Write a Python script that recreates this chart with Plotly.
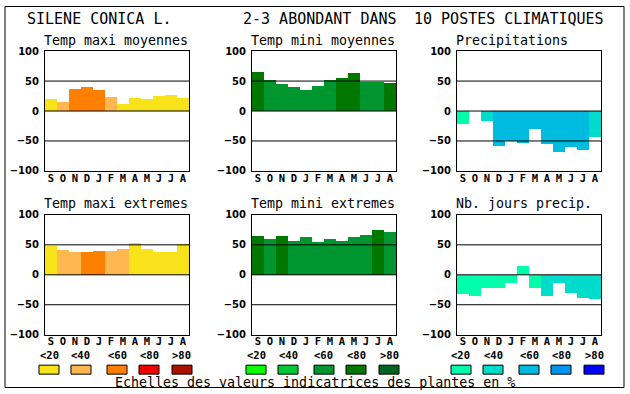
import plotly.graph_objects as go

W, H = 630, 394

months = ["S", "O", "N", "D", "J", "F", "M", "A", "M", "J", "J", "A"]
y_ticks = [-100, -50, 0, 50, 100]
class_labels = ["<20", "<40", "<60", "<80", ">80"]

tmax_moy = [20, 15, 37, 40, 35, 23, 12, 22, 20, 25, 27, 22]
tmax_moy_cls = [0, 1, 2, 2, 2, 1, 0, 0, 0, 0, 0, 0]
tmin_moy = [65, 52, 45, 40, 35, 42, 52, 55, 64, 49, 49, 47]
tmin_moy_cls = [3, 2, 2, 2, 2, 2, 2, 3, 3, 2, 2, 3]
precip = [-21, 0, -16, -58, -51, -53, -31, -56, -68, -61, -66, -44]
precip_cls = [0, 0, 1, 2, 2, 2, 2, 2, 2, 2, 2, 1]
tmax_ext = [49, 42, 38, 38, 40, 40, 44, 54, 44, 38, 38, 52]
tmax_ext_cls = [0, 1, 1, 2, 2, 1, 1, 0, 0, 0, 0, 0]
tmin_ext = [65, 60, 65, 57, 64, 55, 60, 57, 64, 67, 75, 72]
tmin_ext_cls = [3, 2, 3, 2, 2, 2, 2, 2, 2, 2, 3, 2]
nb_jours = [-32, -36, -21, -21, -13, 15, -21, -36, -14, -31, -38, -41]
nb_jours_cls = [0, 0, 0, 0, 0, 0, 0, 1, 1, 1, 1, 1]

warm = ["#f8e21a", "#ffb84f", "#ff7f00", "#ee0000", "#aa1100"]
green = ["#0aff0a", "#00c837", "#00962f", "#007800", "#006420"]
blue = ["#00ffaa", "#00dccb", "#00bbe0", "#0096ee", "#0000ff"]

panels = [
    ("Temp maxi moyennes", tmax_moy, tmax_moy_cls, warm),
    ("Temp mini moyennes", tmin_moy, tmin_moy_cls, green),
    ("Precipitations", precip, precip_cls, blue),
    ("Temp maxi extremes", tmax_ext, tmax_ext_cls, warm),
    ("Temp mini extremes", tmin_ext, tmin_ext_cls, green),
    ("Nb. jours precip.", nb_jours, nb_jours_cls, blue),
]

col_left = [45, 252, 457]
row_top = [50, 214]
PW, PH = 144, 120

MONO = "DejaVu Sans Mono"
SANS = "DejaVu Sans"

# the photographed page comes out slightly squeezed vertically; compensate
SQ_A, SQ_B = 4.83, 0.9709

def px(x):
    return x / W

def py(y):
    yf = (y - SQ_A) / SQ_B
    yf = min(max(yf, 0.5), H - 0.5)
    return 1 - yf / H

fig = go.Figure()
shapes = []
annotations = []

for i, (title, vals, cls, pal) in enumerate(panels):
    r, c = divmod(i, 3)
    n = i + 1
    xa = "x" if n == 1 else f"x{n}"
    ya = "y" if n == 1 else f"y{n}"
    fig.add_trace(go.Bar(
        x=list(range(len(vals))), y=vals,
        marker=dict(color=[pal[k] for k in cls], line=dict(width=0)),
        width=1, xaxis=xa, yaxis=ya, showlegend=False, hoverinfo="skip",
    ))
    l, t = col_left[c], row_top[r]
    xkey = "xaxis" if n == 1 else f"xaxis{n}"
    ykey = "yaxis" if n == 1 else f"yaxis{n}"
    fig.layout[xkey] = dict(
        domain=[px(l), px(l + PW)], anchor=ya, range=[-0.5, 11.5],
        tickmode="array", tickvals=list(range(12)), ticktext=months,
        showgrid=False, zeroline=False, showline=True, mirror=True,
        linecolor="black", linewidth=1, ticks="", layer="above traces",
        ticklabelstandoff=-3,
        tickfont=dict(family=MONO, size=10.5, color="black", weight="bold"),
        fixedrange=True,
    )
    fig.layout[ykey] = dict(
        domain=[py(t + PH), py(t)], anchor=xa, range=[-100, 100],
        tickmode="array", tickvals=y_ticks,
        showgrid=False, zeroline=False, showline=True, mirror=True,
        linecolor="black", linewidth=1, ticks="", layer="above traces",
        ticklabelstandoff=3,
        tickfont=dict(family=SANS, size=10, color="black", weight="bold"),
        fixedrange=True,
    )
    for gv in [-50, 0, 50]:
        shapes.append(dict(type="line", xref=f"{xa} domain", yref=ya,
                           x0=0, x1=1, y0=gv, y1=gv, layer="above",
                           line=dict(color="black", width=1)))
    annotations.append(dict(text=title, xref="paper", yref="paper",
                            x=px(l - 2), y=py(t - 11), xanchor="left", yanchor="middle",
                            showarrow=False, borderpad=0,
                            font=dict(family=MONO, size=13.3, color="black")))

# legends (colour scales) per column
box_off = [-6, 26, 62, 94, 127]
pals = [warm, green, blue]
for c in range(3):
    l = col_left[c]
    for k in range(5):
        bx = l + box_off[k]
        shapes.append(dict(type="rect", xref="paper", yref="paper",
                           x0=px(bx), x1=px(bx + 20), y0=py(373.5), y1=py(364.5),
                           fillcolor=pals[c][k], line=dict(color="black", width=1),
                           layer="above"))
        annotations.append(dict(text=class_labels[k], xref="paper", yref="paper",
                                x=px(bx + 10), y=py(354.5), xanchor="center",
                                yanchor="middle", showarrow=False, borderpad=0,
                                font=dict(family=MONO, size=10.5, color="black",
                                          weight="bold")))

# outer frame
shapes.append(dict(type="rect", xref="paper", yref="paper",
                   x0=px(5), x1=px(624), y0=py(389), y1=py(4.5),
                   line=dict(color="black", width=1), layer="above"))

# header
for txt, x0 in [("SILENE CONICA L.", 27), ("2-3 ABONDANT DANS", 243),
                ("10 POSTES CLIMATIQUES", 414)]:
    annotations.append(dict(text=txt, xref="paper", yref="paper", x=px(x0 - 1),
                            y=py(17.5), xanchor="left", yanchor="middle",
                            showarrow=False, borderpad=0,
                            font=dict(family=MONO, size=15, color="black")))

annotations.append(dict(text="Echelles des valeurs indicatrices des plantes en %",
                        xref="paper", yref="paper", x=px(315), y=py(382),
                        xanchor="center", yanchor="middle", showarrow=False,
                        borderpad=0,
                        font=dict(family=MONO, size=13.3, color="black")))

fig.update_layout(
    width=W, height=H, margin=dict(l=0, r=0, t=0, b=0),
    paper_bgcolor="white", plot_bgcolor="white",
    bargap=0, shapes=shapes, annotations=annotations,
)

post = (
    "var gd=document.getElementById('{plot_id}');"
    "gd.style.position='absolute';gd.style.left='0px';gd.style.top='0px';"
    "[document.documentElement, document.body].forEach(function(e){"
    "e.style.margin='0px';e.style.padding='0px';e.style.overflow='hidden';"
    "e.style.width='630px';e.style.height='394px';});"
)

fig.write_html("out.html", config={"displayModeBar": False}, post_script=post)
